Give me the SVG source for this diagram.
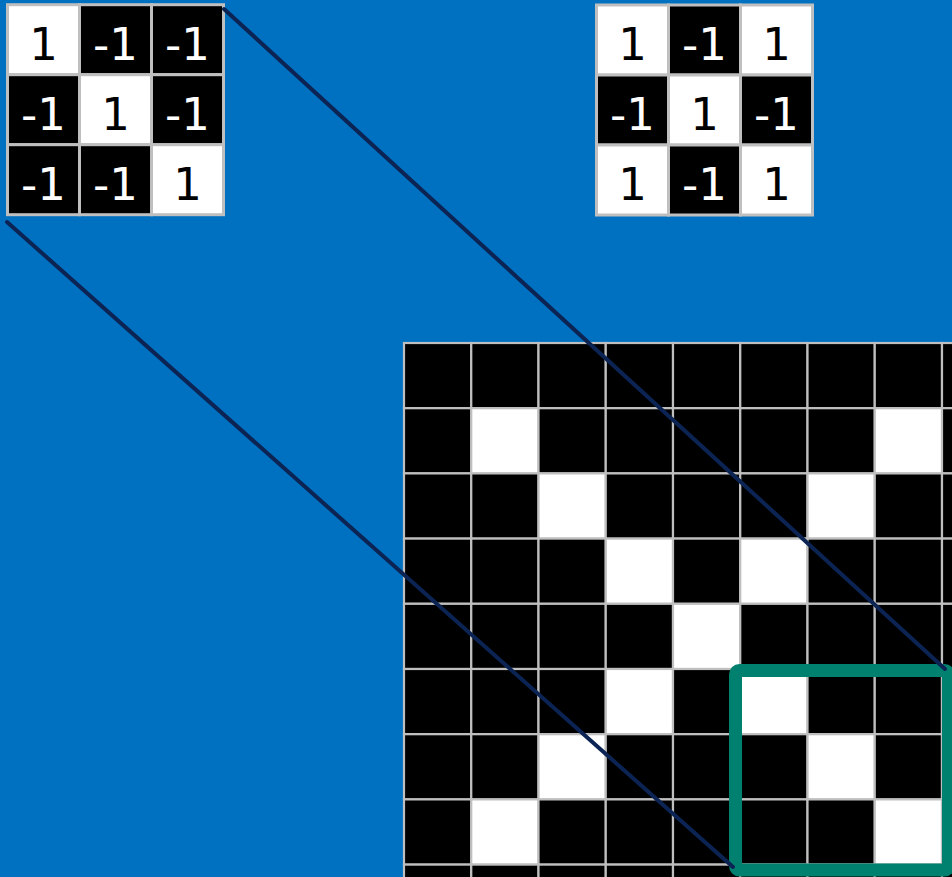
<svg xmlns="http://www.w3.org/2000/svg" width="952" height="877" viewBox="0 0 952 877">
<style>
.b{fill:#000;stroke:#BFBFBF;stroke-width:3}
.w{fill:#fff;stroke:#BFBFBF;stroke-width:3}
.gb{fill:#000;stroke:#BFBFBF;stroke-width:2.2}
.gw{fill:#fff;stroke:#BFBFBF;stroke-width:2.2}
text{font-family:"DejaVu Sans",sans-serif;font-size:45px;text-anchor:middle}
.tw{fill:#fff}
.tb{fill:#000}
.conn{stroke:#0B2454;stroke-width:4;stroke-linecap:round;fill:none}
</style>
<rect width="952" height="877" fill="#0070C0"/>
<g id="filter-left">
<rect class="w" x="7.5" y="4.7" width="72" height="70"/>
<rect class="b" x="79.5" y="4.7" width="72" height="70"/>
<rect class="b" x="151.5" y="4.7" width="72" height="70"/>
<rect class="b" x="7.5" y="74.7" width="72" height="70"/>
<rect class="w" x="79.5" y="74.7" width="72" height="70"/>
<rect class="b" x="151.5" y="74.7" width="72" height="70"/>
<rect class="b" x="7.5" y="144.7" width="72" height="70"/>
<rect class="b" x="79.5" y="144.7" width="72" height="70"/>
<rect class="w" x="151.5" y="144.7" width="72" height="70"/>
<text class="tb" x="43.5" y="59.5">1</text>
<text class="tw" x="115.5" y="59.5">-1</text>
<text class="tw" x="187.5" y="59.5">-1</text>
<text class="tw" x="43.5" y="129.5">-1</text>
<text class="tb" x="115.5" y="129.5">1</text>
<text class="tw" x="187.5" y="129.5">-1</text>
<text class="tw" x="43.5" y="199.5">-1</text>
<text class="tw" x="115.5" y="199.5">-1</text>
<text class="tb" x="187.5" y="199.5">1</text>
</g>
<g id="filter-right">
<rect class="w" x="596.5" y="5" width="72" height="70"/>
<rect class="b" x="668.5" y="5" width="72" height="70"/>
<rect class="w" x="740.5" y="5" width="72" height="70"/>
<rect class="b" x="596.5" y="75" width="72" height="70"/>
<rect class="w" x="668.5" y="75" width="72" height="70"/>
<rect class="b" x="740.5" y="75" width="72" height="70"/>
<rect class="w" x="596.5" y="145" width="72" height="70"/>
<rect class="b" x="668.5" y="145" width="72" height="70"/>
<rect class="w" x="740.5" y="145" width="72" height="70"/>
<text class="tb" x="632.5" y="59.5">1</text>
<text class="tw" x="704.5" y="59.5">-1</text>
<text class="tb" x="776.5" y="59.5">1</text>
<text class="tw" x="632.5" y="129.5">-1</text>
<text class="tb" x="704.5" y="129.5">1</text>
<text class="tw" x="776.5" y="129.5">-1</text>
<text class="tb" x="632.5" y="199.5">1</text>
<text class="tw" x="704.5" y="199.5">-1</text>
<text class="tb" x="776.5" y="199.5">1</text>
</g>
<g id="image-grid">
<rect class="gb" x="404" y="343" width="67.25" height="65.2"/><rect class="gb" x="471.25" y="343" width="67.25" height="65.2"/><rect class="gb" x="538.5" y="343" width="67.25" height="65.2"/><rect class="gb" x="605.75" y="343" width="67.25" height="65.2"/><rect class="gb" x="673" y="343" width="67.25" height="65.2"/><rect class="gb" x="740.25" y="343" width="67.25" height="65.2"/><rect class="gb" x="807.5" y="343" width="67.25" height="65.2"/><rect class="gb" x="874.75" y="343" width="67.25" height="65.2"/><rect class="gb" x="942" y="343" width="67.25" height="65.2"/>
<rect class="gb" x="404" y="408.2" width="67.25" height="65.2"/><rect class="gw" x="471.25" y="408.2" width="67.25" height="65.2"/><rect class="gb" x="538.5" y="408.2" width="67.25" height="65.2"/><rect class="gb" x="605.75" y="408.2" width="67.25" height="65.2"/><rect class="gb" x="673" y="408.2" width="67.25" height="65.2"/><rect class="gb" x="740.25" y="408.2" width="67.25" height="65.2"/><rect class="gb" x="807.5" y="408.2" width="67.25" height="65.2"/><rect class="gw" x="874.75" y="408.2" width="67.25" height="65.2"/><rect class="gb" x="942" y="408.2" width="67.25" height="65.2"/>
<rect class="gb" x="404" y="473.4" width="67.25" height="65.2"/><rect class="gb" x="471.25" y="473.4" width="67.25" height="65.2"/><rect class="gw" x="538.5" y="473.4" width="67.25" height="65.2"/><rect class="gb" x="605.75" y="473.4" width="67.25" height="65.2"/><rect class="gb" x="673" y="473.4" width="67.25" height="65.2"/><rect class="gb" x="740.25" y="473.4" width="67.25" height="65.2"/><rect class="gw" x="807.5" y="473.4" width="67.25" height="65.2"/><rect class="gb" x="874.75" y="473.4" width="67.25" height="65.2"/><rect class="gb" x="942" y="473.4" width="67.25" height="65.2"/>
<rect class="gb" x="404" y="538.6" width="67.25" height="65.2"/><rect class="gb" x="471.25" y="538.6" width="67.25" height="65.2"/><rect class="gb" x="538.5" y="538.6" width="67.25" height="65.2"/><rect class="gw" x="605.75" y="538.6" width="67.25" height="65.2"/><rect class="gb" x="673" y="538.6" width="67.25" height="65.2"/><rect class="gw" x="740.25" y="538.6" width="67.25" height="65.2"/><rect class="gb" x="807.5" y="538.6" width="67.25" height="65.2"/><rect class="gb" x="874.75" y="538.6" width="67.25" height="65.2"/><rect class="gb" x="942" y="538.6" width="67.25" height="65.2"/>
<rect class="gb" x="404" y="603.8" width="67.25" height="65.2"/><rect class="gb" x="471.25" y="603.8" width="67.25" height="65.2"/><rect class="gb" x="538.5" y="603.8" width="67.25" height="65.2"/><rect class="gb" x="605.75" y="603.8" width="67.25" height="65.2"/><rect class="gw" x="673" y="603.8" width="67.25" height="65.2"/><rect class="gb" x="740.25" y="603.8" width="67.25" height="65.2"/><rect class="gb" x="807.5" y="603.8" width="67.25" height="65.2"/><rect class="gb" x="874.75" y="603.8" width="67.25" height="65.2"/><rect class="gb" x="942" y="603.8" width="67.25" height="65.2"/>
<rect class="gb" x="404" y="669" width="67.25" height="65.2"/><rect class="gb" x="471.25" y="669" width="67.25" height="65.2"/><rect class="gb" x="538.5" y="669" width="67.25" height="65.2"/><rect class="gw" x="605.75" y="669" width="67.25" height="65.2"/><rect class="gb" x="673" y="669" width="67.25" height="65.2"/><rect class="gw" x="740.25" y="669" width="67.25" height="65.2"/><rect class="gb" x="807.5" y="669" width="67.25" height="65.2"/><rect class="gb" x="874.75" y="669" width="67.25" height="65.2"/><rect class="gb" x="942" y="669" width="67.25" height="65.2"/>
<rect class="gb" x="404" y="734.2" width="67.25" height="65.2"/><rect class="gb" x="471.25" y="734.2" width="67.25" height="65.2"/><rect class="gw" x="538.5" y="734.2" width="67.25" height="65.2"/><rect class="gb" x="605.75" y="734.2" width="67.25" height="65.2"/><rect class="gb" x="673" y="734.2" width="67.25" height="65.2"/><rect class="gb" x="740.25" y="734.2" width="67.25" height="65.2"/><rect class="gw" x="807.5" y="734.2" width="67.25" height="65.2"/><rect class="gb" x="874.75" y="734.2" width="67.25" height="65.2"/><rect class="gb" x="942" y="734.2" width="67.25" height="65.2"/>
<rect class="gb" x="404" y="799.4" width="67.25" height="65.2"/><rect class="gw" x="471.25" y="799.4" width="67.25" height="65.2"/><rect class="gb" x="538.5" y="799.4" width="67.25" height="65.2"/><rect class="gb" x="605.75" y="799.4" width="67.25" height="65.2"/><rect class="gb" x="673" y="799.4" width="67.25" height="65.2"/><rect class="gb" x="740.25" y="799.4" width="67.25" height="65.2"/><rect class="gb" x="807.5" y="799.4" width="67.25" height="65.2"/><rect class="gw" x="874.75" y="799.4" width="67.25" height="65.2"/><rect class="gb" x="942" y="799.4" width="67.25" height="65.2"/>
<rect class="gb" x="404" y="864.6" width="67.25" height="65.2"/><rect class="gb" x="471.25" y="864.6" width="67.25" height="65.2"/><rect class="gb" x="538.5" y="864.6" width="67.25" height="65.2"/><rect class="gb" x="605.75" y="864.6" width="67.25" height="65.2"/><rect class="gb" x="673" y="864.6" width="67.25" height="65.2"/><rect class="gb" x="740.25" y="864.6" width="67.25" height="65.2"/><rect class="gb" x="807.5" y="864.6" width="67.25" height="65.2"/><rect class="gb" x="874.75" y="864.6" width="67.25" height="65.2"/><rect class="gb" x="942" y="864.6" width="67.25" height="65.2"/>
</g>
<g id="highlight">
<rect x="735.5" y="670.5" width="213" height="199.5" rx="4" fill="none" stroke="#00806F" stroke-width="13"/>
</g>
<g id="connectors">
<line class="conn" x1="224" y1="9" x2="945" y2="669"/>
<line class="conn" x1="7" y1="222" x2="733" y2="867"/>
</g>
</svg>
